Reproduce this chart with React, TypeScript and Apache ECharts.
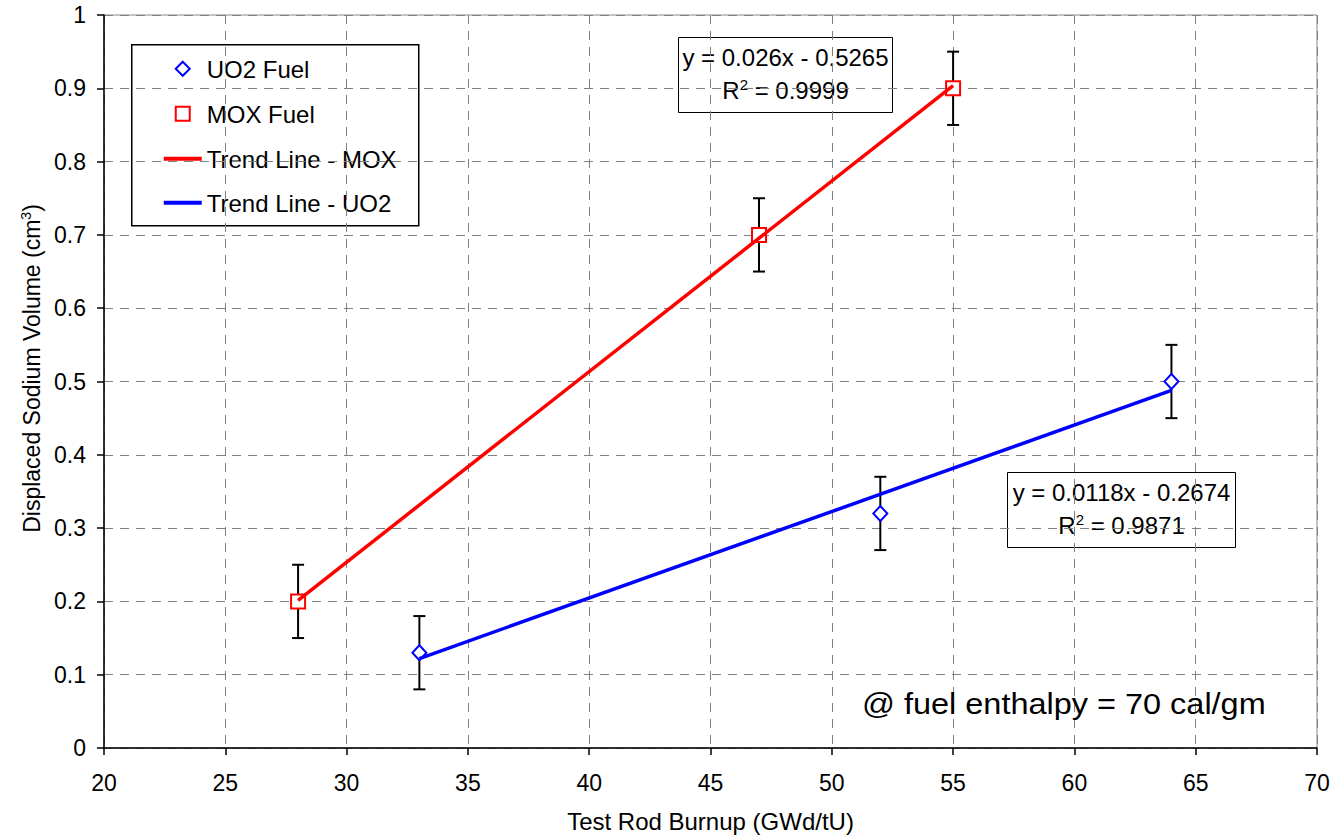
import React, { useEffect, useRef } from "react";
import * as echarts from "echarts";

const FONT = "'Liberation Sans', Arial, sans-serif";

// Data
const uo2Burnup = [33, 52, 64];
const uo2Volume = [0.13, 0.32, 0.5];
const uo2ErrHalf = [0.05, 0.05, 0.05];
const moxBurnup = [28, 47, 55];
const moxVolume = [0.2, 0.7, 0.9];
const moxErrHalf = [0.05, 0.05, 0.05];

// Trend line endpoints (from the shown fits)
const moxTrendX = [28, 55];
const moxTrendY = [0.2015, 0.9035];
const uo2TrendX = [33, 64];
const uo2TrendY = [0.122, 0.4878];

const legendLabels = ["UO2 Fuel", "MOX Fuel", "Trend Line - MOX", "Trend Line - UO2"];
const moxEqn = ["y = 0.026x - 0.5265", "0.9999"];
const uo2Eqn = ["y = 0.0118x - 0.2674", "0.9871"];
const noteText = "@ fuel enthalpy = 70 cal/gm";

const xMin = 20, xMax = 70, xStep = 5;
const yMin = 0, yMax = 1, yStep = 0.1;

export default function App() {
  const ref = useRef<HTMLDivElement>(null);
  useEffect(() => {
    if (!ref.current) return;
    const chart = echarts.init(ref.current, null, { renderer: "svg" });

    const errData = [
      ...uo2Burnup.map((x, i) => [x, uo2Volume[i], uo2Volume[i] - uo2ErrHalf[i], uo2Volume[i] + uo2ErrHalf[i]]),
      ...moxBurnup.map((x, i) => [x, moxVolume[i], moxVolume[i] - moxErrHalf[i], moxVolume[i] + moxErrHalf[i]]),
    ];

    const rich = {
      a: { fontSize: 24, fontFamily: FONT, color: "#000" },
      s: { fontSize: 15, fontFamily: FONT, color: "#000", verticalAlign: "top", padding: [0, 0, 12, 0] },
    };

    const eqBox = (x: number, y: number, w: number, h: number, lines: string[]) => ({
      type: "group",
      left: x,
      top: y,
      z: 100,
      children: [
        { type: "rect", shape: { x: 0, y: 0, width: w, height: h }, style: { fill: "#fff", stroke: "#000", lineWidth: 1 } },
        {
          type: "text",
          x: w / 2,
          y: h * 0.27,
          style: { text: lines[0], font: `24px ${FONT}`, fill: "#000", align: "center", verticalAlign: "middle" },
        },
        {
          type: "text",
          x: w / 2,
          y: h * 0.7,
          style: {
            text: `{a|R}{s|2}{a| = ${lines[1]}}`,
            rich,
            align: "center",
            verticalAlign: "middle",
          },
        },
      ],
    });

    const legendX = 131, legendY = 44;
    const rowY = [24, 69, 114, 158];
    const legendGroup = {
      type: "group",
      left: legendX,
      top: legendY,
      z: 100,
      children: [
        { type: "rect", shape: { x: 0, y: 0, width: 287, height: 181 }, style: { fill: "#fff", stroke: "#000", lineWidth: 1.5 } },
        {
          type: "polygon",
          shape: { points: [[51, rowY[0] - 7], [58, rowY[0]], [51, rowY[0] + 7], [44, rowY[0]]] },
          style: { fill: "#fff", stroke: "#0000ff", lineWidth: 2 },
        },
        { type: "rect", shape: { x: 44, y: rowY[1] - 7, width: 14, height: 14 }, style: { fill: "#fff", stroke: "#ff0000", lineWidth: 2 } },
        { type: "line", shape: { x1: 32, y1: rowY[2], x2: 70, y2: rowY[2] }, style: { stroke: "#ff0000", lineWidth: 4 } },
        { type: "line", shape: { x1: 32, y1: rowY[3], x2: 70, y2: rowY[3] }, style: { stroke: "#0000ff", lineWidth: 4 } },
        ...legendLabels.map((t, i) => ({
          type: "text",
          x: 75,
          y: rowY[i] + 1,
          style: { text: t, font: `24px ${FONT}`, fill: "#000", align: "left", verticalAlign: "middle" },
        })),
      ],
    };

    const option: any = {
      animation: false,
      backgroundColor: "#fff",
      grid: { left: 104, right: 19, top: 15, bottom: 90, show: true, borderColor: "#888", borderWidth: 1, containLabel: false },
      xAxis: {
        type: "value",
        min: xMin,
        max: xMax,
        interval: xStep,
        name: "Test Rod Burnup (GWd/tU)",
        nameLocation: "middle",
        nameGap: 61,
        nameTextStyle: { fontSize: 24, fontFamily: FONT, color: "#000" },
        axisLine: { show: true, onZero: false, lineStyle: { color: "#000", width: 1.5 } },
        axisTick: { show: true, length: 7, lineStyle: { color: "#000", width: 1.5 } },
        axisLabel: { fontSize: 23, fontFamily: FONT, color: "#000", margin: 23 },
        splitLine: { show: true, lineStyle: { color: "#808080", type: [9, 7], width: 1 } },
      },
      yAxis: {
        type: "value",
        min: yMin,
        max: yMax,
        interval: yStep,
        name: "{a|Displaced Sodium Volume (cm}{s|3}{a|)}",
        nameLocation: "middle",
        nameGap: 58,
        nameTextStyle: {
          fontFamily: FONT,
          color: "#000",
          padding: [0, 0, 0, 26],
          rich: {
            a: { fontSize: 23, fontFamily: FONT, color: "#000" },
            s: { fontSize: 14, fontFamily: FONT, color: "#000", verticalAlign: "top", padding: [0, 0, 12, 0] },
          },
        },
        axisLine: { show: true, onZero: false, lineStyle: { color: "#000", width: 1.5 } },
        axisTick: { show: true, length: 7, lineStyle: { color: "#000", width: 1.5 } },
        axisLabel: { fontSize: 23, fontFamily: FONT, color: "#000", margin: 18 },
        splitLine: { show: true, lineStyle: { color: "#808080", type: [9, 7], width: 1 } },
      },
      series: [
        {
          type: "custom",
          name: "errors",
          data: errData,
          encode: { x: 0, y: [2, 3] },
          z: 2,
          renderItem: (params: any, api: any) => {
            const x = api.value(0);
            const top = api.coord([x, api.value(3)]);
            const bot = api.coord([x, api.value(2)]);
            const cap = 6;
            const st = { stroke: "#000", lineWidth: 2 };
            return {
              type: "group",
              children: [
                { type: "line", shape: { x1: top[0], y1: top[1], x2: bot[0], y2: bot[1] }, style: st },
                { type: "line", shape: { x1: top[0] - cap, y1: top[1], x2: top[0] + cap, y2: top[1] }, style: st },
                { type: "line", shape: { x1: bot[0] - cap, y1: bot[1], x2: bot[0] + cap, y2: bot[1] }, style: st },
              ],
            };
          },
        },
        {
          type: "scatter",
          name: "UO2 Fuel",
          symbol: "diamond",
          symbolSize: [14, 15],
          z: 3,
          itemStyle: { color: "#fff", borderColor: "#0000ff", borderWidth: 2, opacity: 1 },
          data: uo2Burnup.map((x, i) => [x, uo2Volume[i]]),
        },
        {
          type: "scatter",
          name: "MOX Fuel",
          symbol: "rect",
          symbolSize: 14,
          z: 3,
          itemStyle: { color: "#fff", borderColor: "#ff0000", borderWidth: 2, opacity: 1 },
          data: moxBurnup.map((x, i) => [x, moxVolume[i]]),
        },
        {
          type: "line",
          name: "Trend Line - MOX",
          showSymbol: false,
          symbol: "none",
          z: 4,
          lineStyle: { color: "#ff0000", width: 3.5 },
          data: moxTrendX.map((x, i) => [x, moxTrendY[i]]),
        },
        {
          type: "line",
          name: "Trend Line - UO2",
          showSymbol: false,
          symbol: "none",
          z: 4,
          lineStyle: { color: "#0000ff", width: 3.5 },
          data: uo2TrendX.map((x, i) => [x, uo2TrendY[i]]),
        },
      ],
      graphic: [
        legendGroup,
        eqBox(678, 37, 214, 75, moxEqn),
        eqBox(1007, 472, 228, 75, uo2Eqn),
        {
          type: "text",
          x: 862,
          y: 704,
          z: 100,
          scaleX: 1.12,
          style: { text: noteText, font: `29px ${FONT}`, fill: "#000", align: "left", verticalAlign: "middle" },
        },
      ],
    };

    chart.setOption(option);
    return () => chart.dispose();
  }, []);

  return (
    <div
      ref={ref}
      style={{ position: "fixed", left: 0, top: 0, width: 1336, height: 838, background: "#fff" }}
    />
  );
}
